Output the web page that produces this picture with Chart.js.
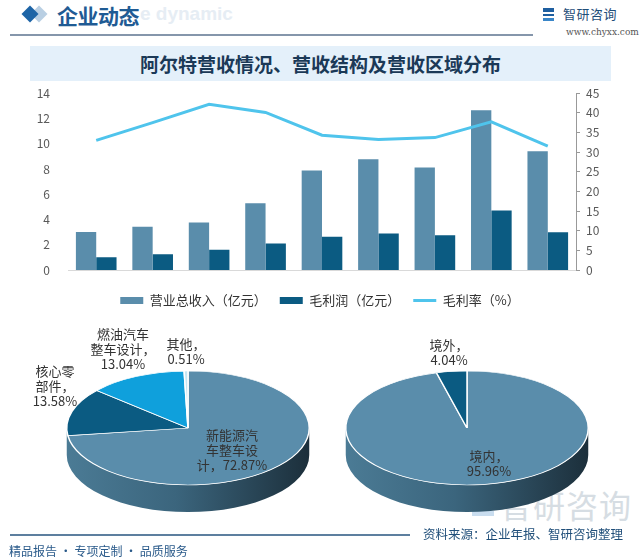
<!DOCTYPE html>
<html>
<head>
<meta charset="utf-8">
<script src="https://cdn.jsdelivr.net/npm/chart.js@4.4.1/dist/chart.umd.min.js"></script>
<style>
  body { margin: 0; background: #fff; }
  #page { position: relative; width: 640px; height: 560px; overflow: hidden; background: #fff;
          font-family: 'Noto Sans CJK SC', sans-serif; }
  #page > * { position: absolute; }
  #diamond2 { left: 33px; top: 8px; width: 12px; height: 12px; background: #b9cfe3; transform: rotate(45deg); }
  #diamond { left: 24px; top: 8px; width: 12px; height: 12px; background: #1d64a6; transform: rotate(45deg); }
  #ghost { left: 140px; top: 3px; font: bold 19px 'Liberation Sans', sans-serif; color: #e6edf4; }
  #head { left: 57px; top: 0px; font-size: 21px; font-weight: 700; color: #1f5b94; line-height: 30px; letter-spacing: -0.5px; }
  #headline { left: 10px; top: 34px; width: 523px; height: 1.5px; background: #8596ab; }
  #logoIcon { left: 543px; top: 8px; width: 11px; height: 13px;
              background: linear-gradient(#1f5fa0 0 30%, #fff 30% 45%, #1f5fa0 45% 60%, #fff 60% 75%, #3a86c8 75%); }
  #logo { left: 563px; top: 5px; font-size: 13px; color: #1f4e79; letter-spacing: 0.5px; line-height: 18px; }
  #url { left: 566px; top: 27px; font: 9px 'DejaVu Serif', serif; color: #555; }
  #band { left: 30px; top: 46px; width: 581px; height: 35px; background: #e4f0fa; color: #1b3957;
          font-size: 19px; font-weight: 700; text-align: center; line-height: 35px; }
  #barChart { left: 0; top: 76px; }
  #bigIcon { left: 472px; top: 496px; width: 22px; height: 20px;
             background: linear-gradient(#c9ddef 0 30%, transparent 30% 45%, #c9ddef 45% 60%, transparent 60% 75%, #c9ddef 75%); }
  #bigmark { left: 500px; top: 484px; font-size: 32px; color: #d6dde3; line-height: 40px; letter-spacing: 1px; }
  #pieSegment { left: 0; top: 300px; }
  #pieRegion { left: 320px; top: 300px; }
  #footline { left: 10px; top: 534px; width: 400px; height: 1.5px; background: #5d7f9f; }
  #source { left: 423px; top: 525px; font-size: 12.5px; color: #1f4e79; line-height: 18px; }
  #slogan { left: 9px; top: 542px; font-size: 12px; color: #2a5a8a; line-height: 18px; }
</style>
</head>
<body>
<div id="page">
  <div id="diamond2"></div>
  <div id="diamond"></div>
  <div id="ghost">e dynamic</div>
  <div id="head">企业动态</div>
  <div id="headline"></div>
  <div id="logoIcon"></div>
  <div id="logo">智研咨询</div>
  <div id="url">www.chyxx.com</div>
  <div id="band">阿尔特营收情况、营收结构及营收区域分布</div>
  <div id="bigIcon"></div>
  <div id="bigmark">智研咨询</div>
  <canvas id="barChart" width="640" height="241"></canvas>
  <canvas id="pieSegment" width="320" height="260"></canvas>
  <canvas id="pieRegion" width="320" height="260"></canvas>
  <div id="footline"></div>
  <div id="source">资料来源：企业年报、智研咨询整理</div>
  <div id="slogan">精品报告 · 专项定制 · 品质服务</div>
</div>
<script>
// data
const years = ['2014', '2015', '2016', '2017', '2018', '2019', '2020', '2021', '2022'];
const revenue = [3.0, 3.42, 3.77, 5.29, 7.87, 8.77, 8.11, 12.64, 9.4];       // 亿元
const grossProfit = [1.0, 1.24, 1.61, 2.1, 2.63, 2.9, 2.76, 4.71, 2.98];     // 亿元
const grossMargin = [33.0, 37.5, 42.2, 40.1, 34.3, 33.2, 33.7, 37.7, 31.5];  // %

const segmentNames = ['新能源汽车整车设计', '核心零部件', '燃油汽车整车设计', '其他'];
const segmentShare = [72.87, 13.58, 13.04, 0.51];
const regionNames = ['境内', '境外'];
const regionShare = [95.96, 4.04];

Chart.defaults.font.family = "'Noto Sans CJK SC', sans-serif";
Chart.defaults.animation = false;
Chart.defaults.responsive = false;
Chart.defaults.plugins.tooltip.enabled = false;

// ---- combo bar / line chart ----
new Chart(document.getElementById('barChart'), {
    data: {
        labels: years,
        datasets: [
            { type: 'bar', label: '营业总收入（亿元）', data: revenue, yAxisID: 'y',
              backgroundColor: '#5a8dab', categoryPercentage: 0.72, barPercentage: 1, order: 1 },
            { type: 'bar', label: '毛利润（亿元）', data: grossProfit, yAxisID: 'y',
              backgroundColor: '#0b5b82', categoryPercentage: 0.72, barPercentage: 1, order: 1 },
            { type: 'line', label: '毛利率（%）', data: grossMargin, yAxisID: 'y1',
              borderColor: '#4fc4ec', borderWidth: 3, pointRadius: 0, tension: 0, order: 0 }
        ]
    },
    options: {
        layout: { padding: { top: 0, bottom: 0 } },
        plugins: {
            legend: {
                position: 'bottom',
                labels: {
                    usePointStyle: true, pointStyleWidth: 23, boxHeight: 7, padding: 13,
                    color: '#333', font: { size: 13 },
                    generateLabels: chart => chart.data.datasets.map((ds, i) => {
                        const isLine = ds.type === 'line';
                        const c = isLine ? ds.borderColor : ds.backgroundColor;
                        return { text: ds.label, fillStyle: c, strokeStyle: c, lineWidth: isLine ? 3 : 0,
                                 pointStyle: isLine ? 'line' : 'rect', hidden: false, datasetIndex: i, fontColor: '#333' };
                    })
                }
            }
        },
        scales: {
            x: {
                grid: { display: false, drawTicks: false },
                border: { color: '#d9d9d9' },
                ticks: { color: '#222', font: { size: 13 }, padding: 8 },
                afterFit: s => { s.height = 11; }
            },
            y: {
                position: 'left', min: 0, max: 14,
                ticks: { stepSize: 2, color: '#595959', font: { size: 12 }, padding: 10 },
                grid: { display: false },
                border: { display: false },
                afterFit: s => { s.width = 68; }
            },
            y1: {
                position: 'right', min: 0, max: 45,
                ticks: { stepSize: 5, color: '#595959', font: { size: 12 }, padding: 6 },
                grid: { drawOnChartArea: false, tickLength: 4, color: '#999' },
                border: { color: '#999' },
                afterFit: s => { s.width = 64; }
            }
        }
    }
});

// ---- fake 3D pies: squash the pie vertically and draw a side wall under it ----
function wrapLabel(name, value, sizes) {
    const s = name + '，' + value.toFixed(2) + '%';
    const lines = [];
    let pos = 0;
    sizes.forEach(n => { lines.push(s.slice(pos, pos + n)); pos += n; });
    lines.push(s.slice(pos));
    return lines;
}

const pie3d = {
    id: 'pie3d',
    beforeDatasetsDraw(chart, args, opts) {
        const arc = chart.getDatasetMeta(0).data[0];
        const { x: cx, y: cy, outerRadius: r } = arc;
        const ry = r * opts.tilt;
        const ctx = chart.ctx;
        ctx.save();
        const g = ctx.createLinearGradient(cx - r, 0, cx + r, 0);
        g.addColorStop(0, '#4b7b95');
        g.addColorStop(0.45, '#3b657d');
        g.addColorStop(1, '#1c2f3b');
        ctx.fillStyle = g;
        ctx.beginPath();
        ctx.ellipse(cx, cy, r, ry, 0, 0, Math.PI);
        ctx.lineTo(cx - r, cy + opts.depth);
        ctx.ellipse(cx, cy + opts.depth, r, ry, 0, Math.PI, 0, true);
        ctx.closePath();
        ctx.fill();
        ctx.restore();
        // everything the pie draws now is squashed around its centre
        ctx.save();
        ctx.translate(cx, cy);
        ctx.scale(1, opts.tilt);
        ctx.translate(-cx, -cy);
    },
    afterDatasetsDraw(chart, args, opts) {
        const ctx = chart.ctx;
        ctx.restore();
        const arc = chart.getDatasetMeta(0).data[0];
        ctx.save();
        ctx.fillStyle = '#333';
        ctx.font = "13px 'Noto Sans CJK SC'";
        ctx.textAlign = 'center';
        ctx.textBaseline = 'middle';
        opts.labels.forEach((lines, i) => {
            const [dx, dy] = opts.offsets[i];
            lines.forEach((t, k) => {
                ctx.fillText(t, arc.x + dx, arc.y + dy + (k - (lines.length - 1) / 2) * 15);
            });
        });
        ctx.restore();
    }
};

function makePie(id, names, values, colors, padding, labelSizes, offsets) {
    new Chart(document.getElementById(id), {
        type: 'pie',
        data: {
            labels: names,
            datasets: [{ data: values, backgroundColor: colors, borderColor: '#fff', borderWidth: 1.5 }]
        },
        options: {
            layout: { padding },
            plugins: {
                legend: { display: false },
                pie3d: {
                    tilt: 0.47, depth: 27, offsets,
                    labels: names.map((n, i) => wrapLabel(n, values[i], labelSizes[i]))
                }
            }
        },
        plugins: [pie3d]
    });
}

makePie('pieSegment', segmentNames, segmentShare,
        ['#5a8dab', '#0b5b82', '#0fa0dc', '#c4e6f3'],
        { left: 66, right: 10, top: 6, bottom: 10 },
        [[4, 4], [3, 3], [4, 5], [3]],
        [[44, 22], [-133, -42], [-65, -79], [-2, -76]]);

makePie('pieRegion', regionNames, regionShare,
        ['#5a8dab', '#0b5b82'],
        { left: 25, right: 51, top: 6, bottom: 10 },
        [[3], [3]],
        [[22, 36], [-18, -75]]);
</script>
</body>
</html>
